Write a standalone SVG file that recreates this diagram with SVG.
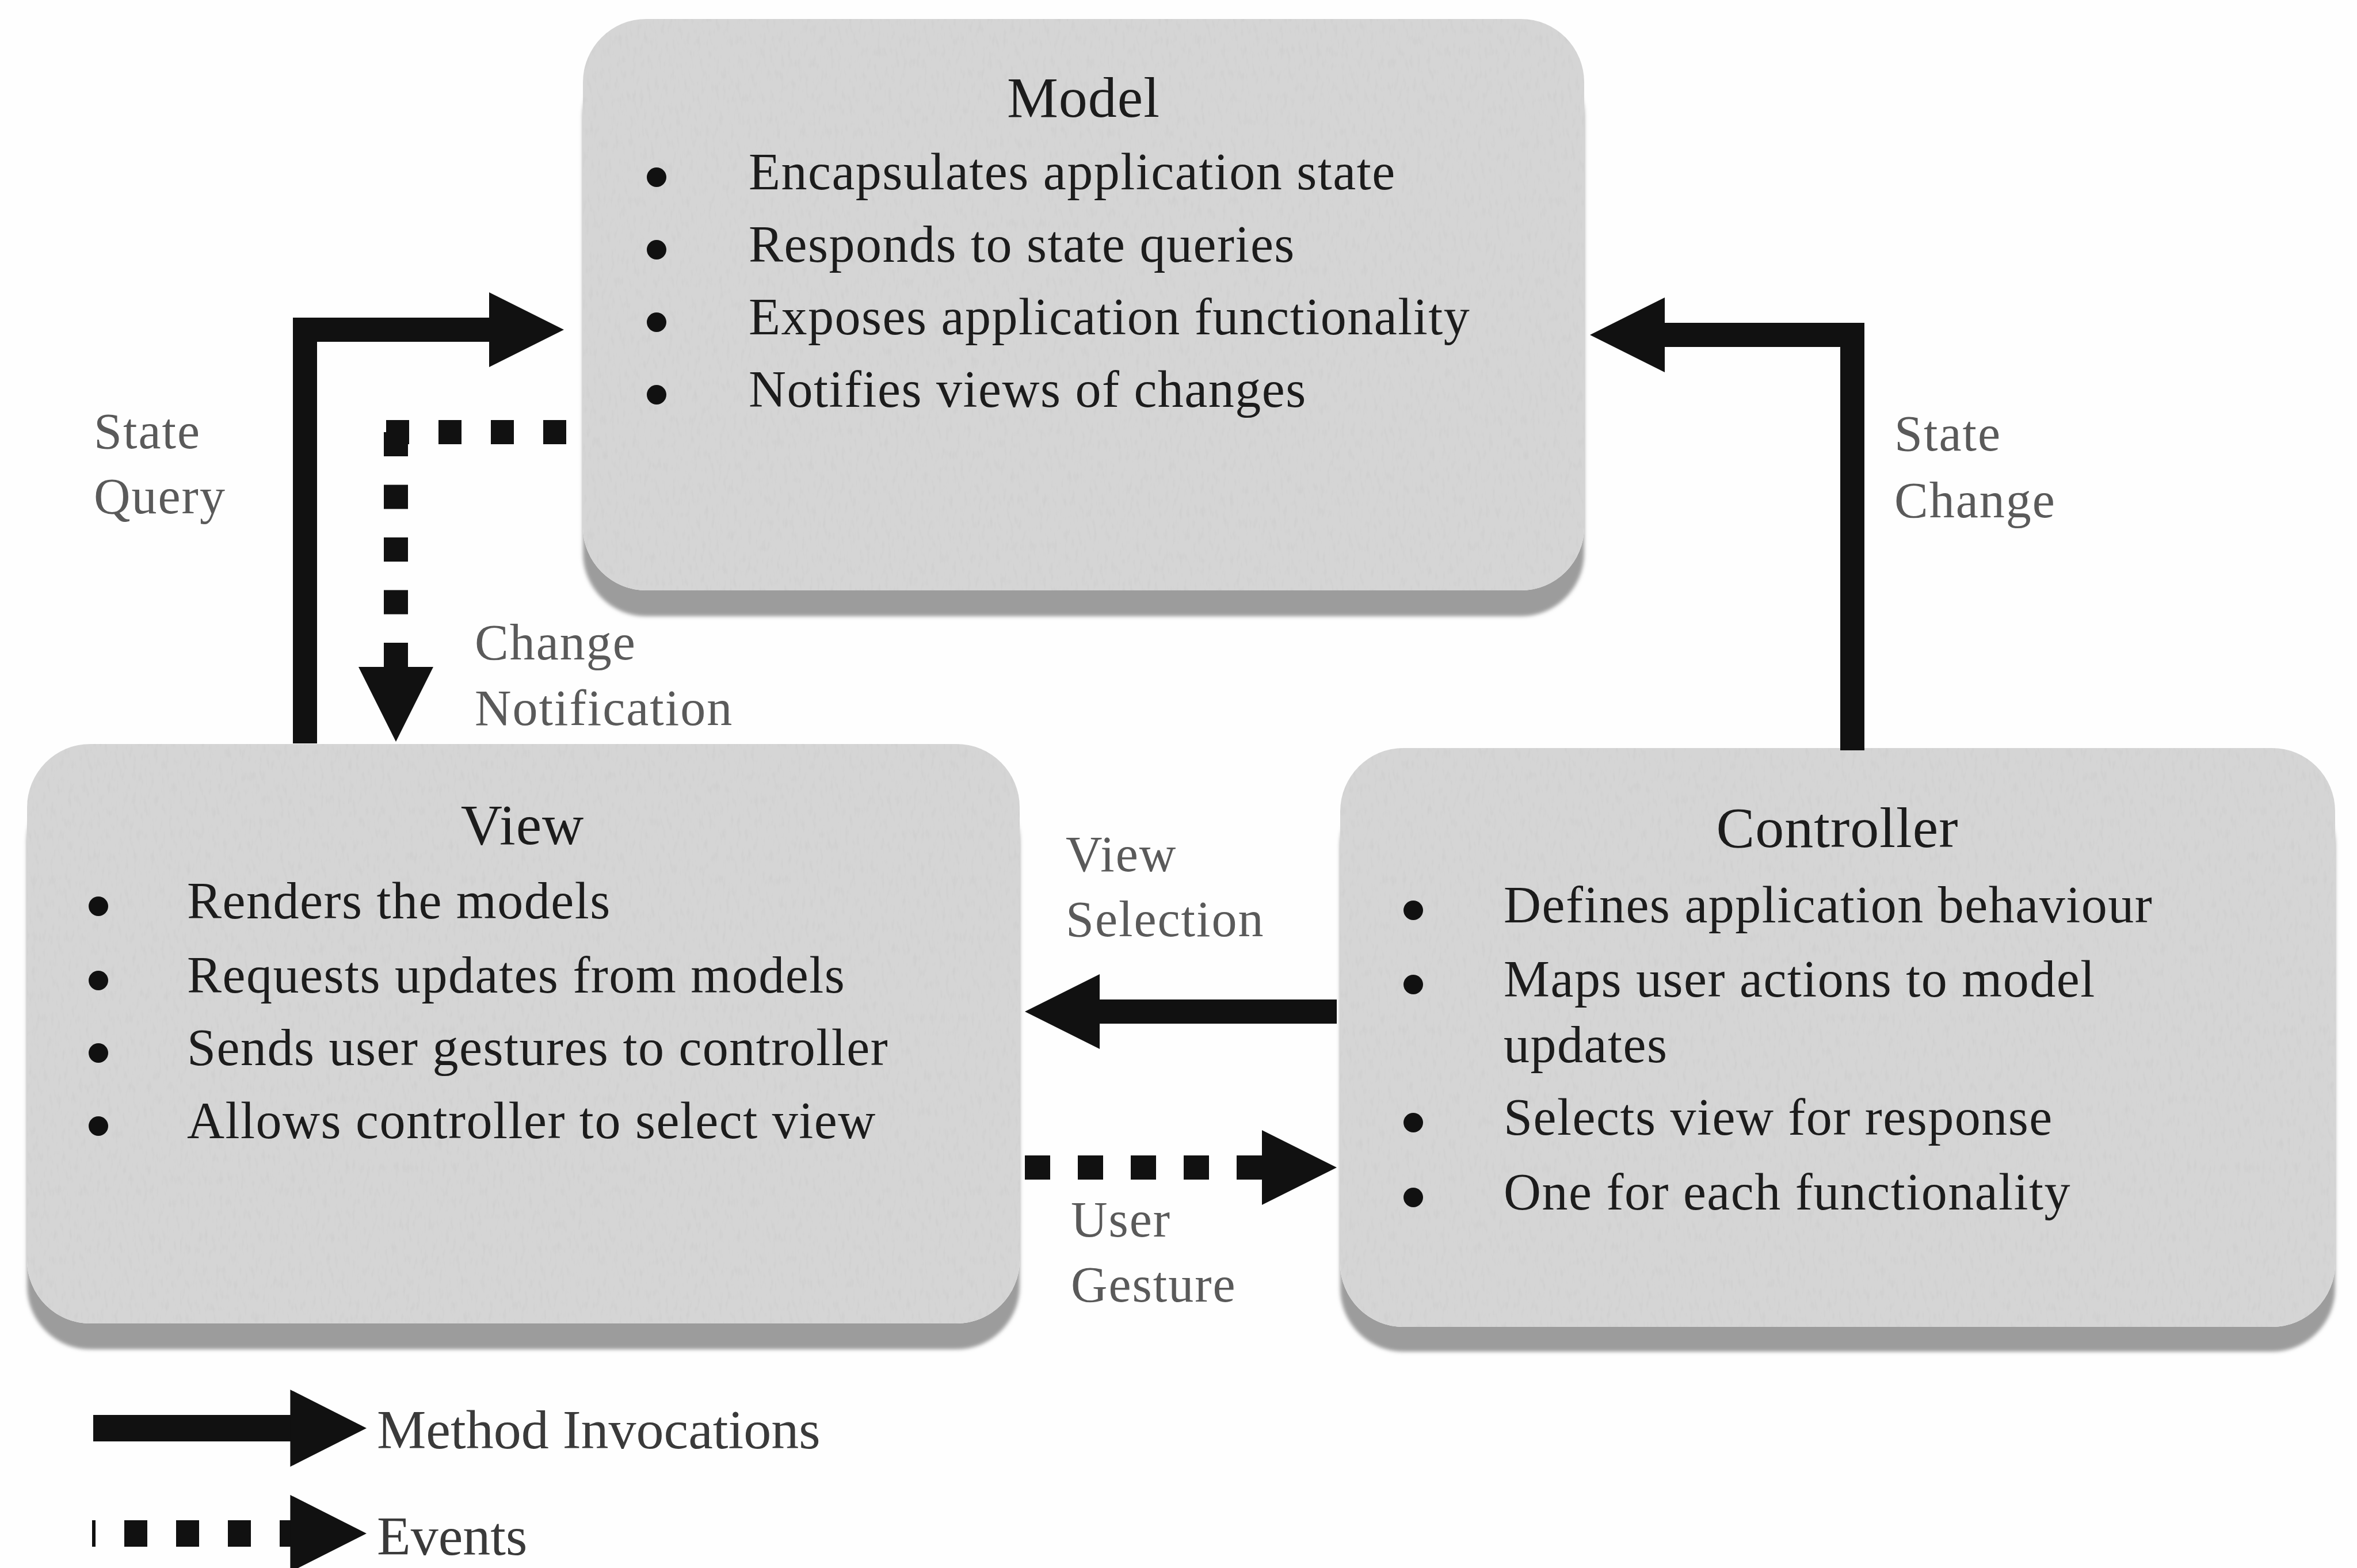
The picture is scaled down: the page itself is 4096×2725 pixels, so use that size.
<svg xmlns="http://www.w3.org/2000/svg" xmlns:xlink="http://www.w3.org/1999/xlink" width="4096" height="2725" viewBox="0 0 4096 2725">
  <defs>
    <style>
      .face { fill: #d5d5d5; filter: url(#grain); }
      .band { fill: #9c9c9c; filter: url(#soft); }
      .title { font-family: "Liberation Serif", "Times New Roman", serif; font-size: 100px; fill: #1c1c1c; text-anchor: middle; letter-spacing: 1px; }
      .item { font-family: "Liberation Serif", "Times New Roman", serif; font-size: 90px; fill: #1c1c1c; letter-spacing: 1.5px; }
      .dot { fill: #111; }
      .label { font-family: "Liberation Serif", "Times New Roman", serif; font-size: 88px; fill: #5a5a5a; letter-spacing: 2px; }
      .legend-text { font-family: "Liberation Serif", "Times New Roman", serif; font-size: 96px; fill: #3a3a3a; }
      .solid { fill: none; stroke: #111; stroke-width: 42; stroke-linejoin: miter; stroke-linecap: butt; }
      .dashed { fill: none; stroke: #111; stroke-width: 42; stroke-linecap: butt; }
      .head { fill: #111; }
    </style>
    <filter id="grain" x="0" y="0" width="100%" height="100%">
      <feTurbulence type="fractalNoise" baseFrequency="0.16 0.05" numOctaves="2" seed="7" result="noise"/>
      <feColorMatrix in="noise" type="matrix" values="0.16 0 0 0 0.92  0.16 0 0 0 0.92  0.16 0 0 0 0.92  0 0 0 0 1" result="tone"/>
      <feComposite in="tone" in2="SourceGraphic" operator="in" result="clipped"/>
      <feBlend in="SourceGraphic" in2="clipped" mode="multiply"/>
    </filter>
    <filter id="soft" x="-5%" y="-5%" width="110%" height="110%">
      <feGaussianBlur stdDeviation="3"/>
    </filter>
    <!-- arrowhead pointing right, tip at origin -->
    <path id="head" d="M0,0 L-130,-65 L-130,65 Z"/>
  </defs>

  <rect width="4096" height="2725" fill="#fefefe"/>

  <!-- Model -->
  <g id="model">
    <rect class="band" x="1013" y="93" width="1740" height="978" rx="110"/>
    <rect class="face" x="1013" y="33" width="1740" height="993" rx="110"/>
    <text class="title" x="1883" y="203">Model</text>
    <circle class="dot" cx="1141" cy="308" r="17"/>
    <circle class="dot" cx="1141" cy="434" r="17"/>
    <circle class="dot" cx="1141" cy="560" r="17"/>
    <circle class="dot" cx="1141" cy="686" r="17"/>
    <text class="item" x="1301" y="329">Encapsulates application state</text>
    <text class="item" x="1301" y="455">Responds to state queries</text>
    <text class="item" x="1301" y="581">Exposes application functionality</text>
    <text class="item" x="1301" y="707">Notifies views of changes</text>
  </g>

  <!-- View -->
  <g id="view">
    <rect class="band" x="47" y="1353" width="1725" height="992" rx="110"/>
    <rect class="face" x="47" y="1293" width="1725" height="1007" rx="110"/>
    <text class="title" x="908" y="1467">View</text>
    <circle class="dot" cx="171" cy="1575" r="17"/>
    <circle class="dot" cx="171" cy="1704" r="17"/>
    <circle class="dot" cx="171" cy="1830" r="17"/>
    <circle class="dot" cx="171" cy="1957" r="17"/>
    <text class="item" x="325" y="1596">Renders the models</text>
    <text class="item" x="325" y="1725">Requests updates from models</text>
    <text class="item" x="325" y="1851">Sends user gestures to controller</text>
    <text class="item" x="325" y="1978">Allows controller to select view</text>
  </g>

  <!-- Controller -->
  <g id="controller">
    <rect class="band" x="2329" y="1360" width="1729" height="989" rx="110"/>
    <rect class="face" x="2329" y="1300" width="1729" height="1006" rx="110"/>
    <text class="title" x="3193" y="1472">Controller</text>
    <circle class="dot" cx="2456" cy="1582" r="17"/>
    <circle class="dot" cx="2456" cy="1711" r="17"/>
    <circle class="dot" cx="2456" cy="1951" r="17"/>
    <circle class="dot" cx="2456" cy="2081" r="17"/>
    <text class="item" x="2613" y="1603">Defines application behaviour</text>
    <text class="item" x="2613" y="1732">Maps user actions to model</text>
    <text class="item" x="2613" y="1846">updates</text>
    <text class="item" x="2613" y="1972">Selects view for response</text>
    <text class="item" x="2613" y="2102">One for each functionality</text>
  </g>

  <!-- Connectors -->
  <g id="connectors">
    <!-- State Query: View -> Model -->
    <path class="solid" d="M530 1292 V573 H860"/>
    <use href="#head" class="head" transform="translate(980 573)"/>

    <!-- Change Notification: Model -> View (event) -->
    <path class="dashed" d="M984 751 H667" stroke-dasharray="40 51"/>
    <path class="dashed" d="M688 751 V1162" stroke-dasharray="42 49.5"/>
    <use href="#head" class="head" transform="translate(688 1289) rotate(90)"/>

    <!-- State Change: Controller -> Model -->
    <path class="solid" d="M3219 1304 V582 H2890"/>
    <use href="#head" class="head" transform="translate(2763 582) rotate(180)"/>

    <!-- View Selection: Controller -> View -->
    <path class="solid" d="M2323 1758 H1906"/>
    <use href="#head" class="head" transform="translate(1781 1758) rotate(180)"/>

    <!-- User Gesture: View -> Controller (event) -->
    <path class="dashed" d="M1781 2029 H2200" stroke-dasharray="44 48"/>
    <use href="#head" class="head" transform="translate(2323 2029)"/>
  </g>

  <!-- Connector labels -->
  <g id="labels">
    <text class="label" x="163" y="779">State</text>
    <text class="label" x="163" y="892">Query</text>
    <text class="label" x="3292" y="783">State</text>
    <text class="label" x="3292" y="899">Change</text>
    <text class="label" x="825" y="1146">Change</text>
    <text class="label" x="825" y="1260">Notification</text>
    <text class="label" x="1852" y="1514">View</text>
    <text class="label" x="1852" y="1627">Selection</text>
    <text class="label" x="1861" y="2149">User</text>
    <text class="label" x="1861" y="2262">Gesture</text>
  </g>

  <!-- Legend -->
  <g id="legend">
    <path class="solid" d="M162 2482 H515" style="stroke-width:46"/>
    <use href="#head" class="head" transform="translate(637 2482) scale(1.02 1.03)"/>
    <text class="legend-text" x="655" y="2517">Method Invocations</text>
    <path class="dashed" d="M526 2665 H160" stroke-dasharray="40 50" style="stroke-width:46"/>
    <use href="#head" class="head" transform="translate(637 2665) scale(1.02 1.03)"/>
    <text class="legend-text" x="655" y="2702">Events</text>
  </g>
</svg>
